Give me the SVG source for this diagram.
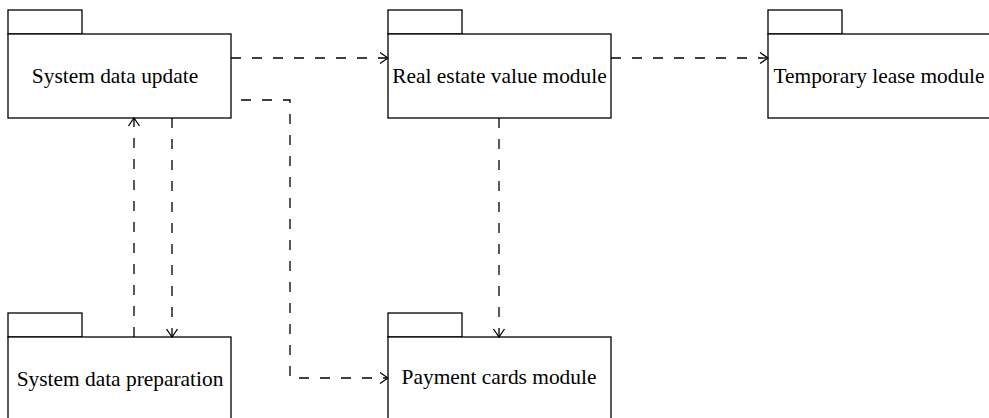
<svg xmlns="http://www.w3.org/2000/svg" width="989" height="418" viewBox="0 0 989 418">
  <style>
    .pkg { fill: #ffffff; stroke: #000000; stroke-width: 1.3; }
    .lbl { font-family: "Liberation Serif", "Times New Roman", serif; font-size: 21.4px; fill: #000000; text-anchor: middle; }
    .dep { fill: none; stroke: #000000; stroke-width: 1.3; stroke-dasharray: 10 11; }
  </style>
  <defs>
    <marker id="open" viewBox="0 0 10 14" refX="9" refY="7" markerWidth="10" markerHeight="14" markerUnits="userSpaceOnUse" orient="auto">
      <path d="M1,1.5 L9,7 L1,12.5" fill="none" stroke="#000000" stroke-width="1.3"/>
    </marker>
  </defs>
  <rect width="989" height="418" fill="#ffffff"/>

  <!-- packages -->
  <g id="system-data-update">
    <rect class="pkg" x="8" y="10" width="74" height="24"/>
    <rect class="pkg" x="8" y="34" width="223" height="84"/>
    <text class="lbl" x="115" y="83">System data update</text>
  </g>
  <g id="real-estate-value-module">
    <rect class="pkg" x="388" y="10" width="74" height="24"/>
    <rect class="pkg" x="388" y="34" width="223" height="84"/>
    <text class="lbl" x="499.5" y="83">Real estate value module</text>
  </g>
  <g id="temporary-lease-module">
    <rect class="pkg" x="768" y="10" width="74" height="24"/>
    <rect class="pkg" x="768" y="34" width="223" height="84"/>
    <text class="lbl" x="879" y="83">Temporary lease module</text>
  </g>
  <g id="system-data-preparation">
    <rect class="pkg" x="8" y="313" width="74" height="24"/>
    <rect class="pkg" x="8" y="337" width="223" height="84"/>
    <text class="lbl" x="120" y="386">System data preparation</text>
  </g>
  <g id="payment-cards-module">
    <rect class="pkg" x="388" y="313" width="74" height="24"/>
    <rect class="pkg" x="388" y="337" width="223" height="84"/>
    <text class="lbl" x="499" y="384">Payment cards module</text>
  </g>

  <!-- dependencies -->
  <g id="connectors">
    <path class="dep" d="M231,58 L388,58" marker-end="url(#open)"/>
    <path class="dep" d="M611,58 L768,58" marker-end="url(#open)"/>
    <path class="dep" d="M241,100 L290,100 L290,378 L388,378" marker-end="url(#open)"/>
    <path class="dep" d="M134,337 L134,118" marker-end="url(#open)"/>
    <path class="dep" d="M172,118 L172,337" marker-end="url(#open)"/>
    <path class="dep" d="M499,118 L499,337" marker-end="url(#open)"/>
  </g>
</svg>
